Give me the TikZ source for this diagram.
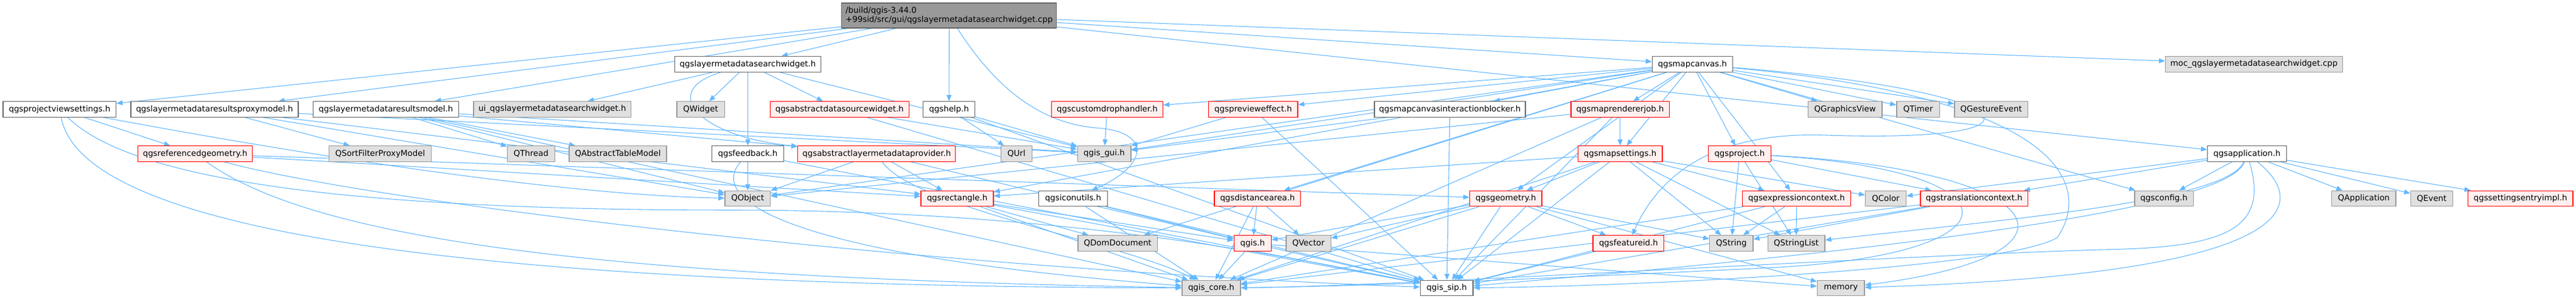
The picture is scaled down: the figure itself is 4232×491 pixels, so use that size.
\documentclass[tikz,border=0pt]{standalone}
\usepackage{fontspec}
\setmainfont{DejaVu Sans}
\usetikzlibrary{arrows.meta,backgrounds}
\definecolor{edgec}{HTML}{63B8FF}
\definecolor{grayfill}{HTML}{E0E0E0}
\definecolor{grayline}{HTML}{999999}
\definecolor{whiteline}{HTML}{666666}
\definecolor{redfill}{HTML}{FFF0F0}
\definecolor{redline}{HTML}{FF0000}
\definecolor{rootfill}{HTML}{999999}
\begin{document}
\begin{tikzpicture}[x=0.75pt,y=-0.75pt,
  font=\fontsize{10pt}{11.25pt}\selectfont,
  box/.style={rectangle, inner sep=0pt, minimum height=25.5*0.75pt, line width=1pt},
  bw/.style={minimum width=#1*0.75pt},
  wnode/.style={box, draw=whiteline, fill=white},
  gnode/.style={box, draw=grayline, fill=grayfill},
  rnode/.style={box, draw=redline, fill=redfill},
  rootnode/.style={box, draw=whiteline, fill=rootfill, minimum height=41*0.75pt, align=left},
  dep/.style={draw=edgec, line width=0.8pt, -{Triangle[length=7.5pt,width=6pt]}}]
\useasboundingbox (0,0) rectangle (4232,491);
% row 0
\node[rootnode, bw=353] (root) at (1559.3,25.5) {/build/qgis-3.44.0\\+99sid/src/gui/qgslayermetadatasearchwidget.cpp};
% row 1
\node[wnode, bw=240] (srch) at (1228.5,105.5) {qgslayermetadatasearchwidget.h};
\node[wnode, bw=132] (canvas) at (2780.4,105.5) {qgsmapcanvas.h};
\node[gnode, bw=291] (moc) at (3703,105.5) {moc\_qgslayermetadatasearchwidget.cpp};
% row 2
\node[wnode, bw=185.5] (pvs) at (97.9,179.5) {qgsprojectviewsettings.h};
\node[wnode, bw=275] (proxy) at (352.4,179.5) {qgslayermetadataresultsproxymodel.h};
\node[wnode, bw=239.4] (rmodel) at (634,179.5) {qgslayermetadataresultsmodel.h};
\node[gnode, bw=258.5] (ui) at (907.3,179.5) {ui\_qgslayermetadatasearchwidget.h};
\node[gnode, bw=78.5] (qwidget) at (1151.1,179.5) {QWidget};
\node[rnode, bw=228] (adsw) at (1379.2,179.5) {qgsabstractdatasourcewidget.h};
\node[wnode, bw=85] (help) at (1559.1,179.5) {qgshelp.h};
\node[rnode, bw=183] (cdh) at (1819,179.5) {qgscustomdrophandler.h};
\node[rnode, bw=146.6] (prev) at (2058.8,179.5) {qgs{}preview{}effect.h};
\node[wnode, bw=248] (blocker) at (2382,179.5) {qgsmapcanvasinteractionblocker.h};
\node[rnode, bw=161.6] (rjob) at (2661.6,179.5) {qgsmaprendererjob.h};
\node[gnode, bw=121.7] (qgv) at (3031.2,179.5) {QGraphicsView};
\node[gnode, bw=70.7] (qtimer) at (3151.2,179.5) {QTimer};
\node[gnode, bw=120.3] (qgest) at (3271.2,179.5) {QGestureEvent};
% row 3
\node[rnode, bw=188.3] (refgeom) at (320.5,252.5) {qgsreferencedgeometry.h};
\node[gnode, bw=168] (qsfpm) at (624.5,252.5) {QSortFilterProxyModel};
\node[gnode, bw=77.6] (qthread) at (872.4,252.5) {QThread};
\node[gnode, bw=160] (qatm) at (1015,252.5) {QAbstractTableModel};
\node[wnode, bw=117.5] (feedback) at (1228.5,252.5) {qgsfeedback.h};
\node[rnode, bw=259] (alm) at (1440.3,252.5) {qgsabstractlayermetadataprovider.h};
\node[gnode, bw=51] (qurl) at (1669.8,252.5) {QUrl};
\node[gnode, bw=87.7] (gui) at (1814,252.5) {qgis\_gui.h};
\node[rnode, bw=138.6] (msettings) at (2661.6,252.5) {qgsmapsettings.h};
\node[rnode, bw=103] (project) at (2857.9,252.5) {qgsproject.h};
\node[wnode, bw=129.8] (app) at (3691.4,252.5) {qgsapplication.h};
% row 4
\node[gnode, bw=74.8] (qobject) at (1228.3,326) {QObject};
\node[rnode, bw=119] (rect) at (1572.5,326) {qgsrectangle.h};
\node[wnode, bw=112.6] (icon) at (1763,326) {qgsiconutils.h};
\node[rnode, bw=141.6] (dist) at (2065.9,326) {qgsdistancearea.h};
\node[rnode, bw=118.4] (geom) at (2473.8,326) {qgsgeometry.h};
\node[rnode, bw=177.7] (expr) at (2951.4,326) {qgsexpressioncontext.h};
\node[gnode, bw=67] (qcolor) at (3098,326) {QColor};
\node[rnode, bw=176.3] (transl) at (3243.2,326) {qgstranslationcontext.h};
\node[gnode, bw=96.2] (config) at (3555.1,326) {qgsconfig.h};
\node[gnode, bw=105.5] (qapp) at (3883.3,326) {QApplication};
\node[gnode, bw=69.5] (qevent) at (3995,326) {QEvent};
\node[rnode, bw=172.2] (sett) at (4140.7,326) {qgssettingsentryimpl.h};
% row 5
\node[gnode, bw=130.4] (qdom) at (1836.2,399.5) {QDomDocument};
\node[rnode, bw=61] (qgis) at (2057.8,399.5) {qgis.h};
\node[gnode, bw=73.4] (qvector) at (2149.6,399.5) {QVector};
\node[rnode, bw=116.6] (fid) at (2675.4,399.5) {qgsfeatureid.h};
\node[gnode, bw=71.2] (qstring) at (2844.3,399.5) {QString};
\node[gnode, bw=93.7] (qsl) at (2951,399.5) {QStringList};
% row 6
\node[gnode, bw=95.9] (core) at (1989.9,473) {qgis\_core.h};
\node[wnode, bw=86.8] (sip) at (2376.7,473) {qgis\_sip.h};
\node[gnode, bw=77.6] (memory) at (3024.3,473) {memory};
% edges behind the nodes
\begin{scope}[on background layer]
\fill[white] (0,0) rectangle (4232,491);
\foreach \a/\b in {
 root/srch, root/moc, root/rmodel, root/proxy, root/pvs, root/help, root/canvas, root/app,
 srch/ui, srch/qwidget, srch/feedback, srch/adsw, srch/gui,
 pvs/refgeom,
 proxy/qsfpm, proxy/qobject, proxy/gui, proxy/rect,
 rmodel/qthread, rmodel/qatm, rmodel/qobject, rmodel/gui, rmodel/alm, rmodel/core,
 adsw/gui, adsw/sip,
 feedback/qobject, feedback/sip,
 alm/qobject, alm/rect, alm/qgis,
 help/qurl, help/gui, help/sip,
 cdh/gui, prev/gui, prev/sip,
 icon/core, icon/sip, icon/qgis,
 rect/qdom, rect/core, rect/qgis, rect/sip,
 refgeom/rect, refgeom/geom,
 canvas/cdh, canvas/prev, canvas/gui, canvas/blocker, canvas/rjob, canvas/msettings, canvas/project,
 canvas/expr, canvas/qgv, canvas/qtimer, canvas/qgest, canvas/config, canvas/dist, canvas/geom,
 canvas/qdom, canvas/rect, canvas/qobject,
 blocker/gui, blocker/sip,
 rjob/msettings, rjob/qobject, rjob/core, rjob/sip,
 msettings/geom, msettings/expr, msettings/qcolor, msettings/qstring, msettings/qsl, msettings/rect, msettings/core, msettings/sip,
 project/qsl, project/transl, project/qstring,
 expr/qstring, expr/qsl, expr/core, expr/sip,
 transl/qstring, transl/core, transl/sip,
 geom/qgis, geom/qvector, geom/fid, geom/qstring, geom/core, geom/sip, geom/memory,
 dist/core, dist/qgis, dist/qvector,
 qgis/core, qgis/sip, qgis/memory,
 fid/sip,
 app/config, app/qapp, app/qevent, app/sett, app/qcolor, app/transl}
 \draw[dep] (\a) -- (\b);
% curved connectors
\draw[dep] (root) .. controls (1620,120) and (1690,200) .. (1800,210) .. controls (1890,215) and (1890,270) .. (icon);
\draw[dep] (srch) .. controls (1080,150) and (1150,225) .. (alm);
\draw[dep] (pvs) .. controls (450,245) and (900,320) .. (qobject);
\draw[dep] (pvs) .. controls (140,400) and (900,470) .. (core);
\draw[dep] (pvs) .. controls (220,300) and (600,345) .. (1200,345) .. controls (1800,345) and (2200,440) .. (sip);
\draw[dep] (refgeom) .. controls (500,380) and (900,455) .. (core);
\draw[dep] (refgeom) .. controls (600,330) and (1500,440) .. (sip);
\draw[dep] (feedback) .. controls (1160,330) and (1300,420) .. (core);
\draw[dep] (alm) .. controls (1500,340) and (1850,400) .. (core);
\draw[dep] (canvas) .. controls (3330,150) and (3400,235) .. (3000,222) .. controls (2800,215) and (2720,300) .. (fid);
\draw[dep] (canvas) .. controls (3380,160) and (3440,300) .. (3380,390) .. controls (3300,440) and (2700,470) .. (sip);
\draw[dep] (project) .. controls (3380,280) and (3450,420) .. (memory);
\draw[dep] (project) .. controls (3330,280) and (3330,420) .. (2900,440) .. controls (2600,455) and (2250,470) .. (core);
\draw[dep] (app) .. controls (3660,330) and (3300,360) .. (qsl);
\draw[dep] (app) .. controls (3660,350) and (3000,420) .. (sip);
\draw[dep] (app) .. controls (3730,380) and (3650,407) .. (3450,410) .. controls (3000,425) and (2300,470) .. (core);
\draw[dep] (app) .. controls (3790,330) and (3800,450) .. (memory);
\end{scope}
\end{tikzpicture}
\end{document}
